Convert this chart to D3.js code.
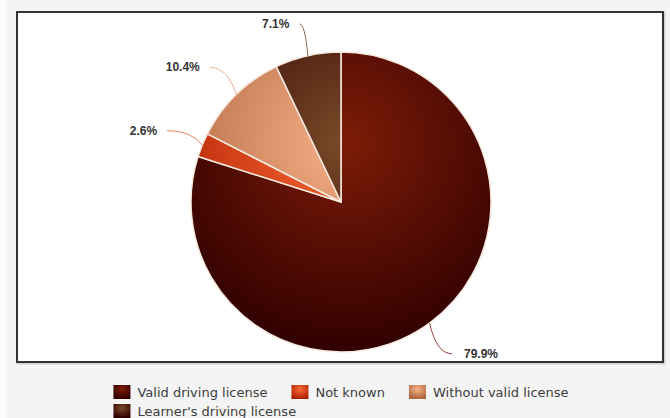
<!DOCTYPE html>
<html>
<head>
<meta charset="utf-8">
<script src="https://cdn.jsdelivr.net/npm/d3@7"></script>
<style>
  body { margin: 0; background: #f4f4f4; }
  svg { display: block; }
</style>
</head>
<body>
<div id="chart"></div>
<script>
// chart data
let categories = ["Valid driving license", "Not known", "Without valid license", "Learner's driving license"];
let shares = [79.9, 2.6, 10.4, 7.1];
let baseColors = ["#7d1c08", "#fa6a38", "#f8b088", "#7a4a28"];

let width = 670, height = 418;
let cx = 341, cy = 202, radius = 150;

let svg = d3.select("#chart").append("svg")
  .attr("width", width).attr("height", height);

let defs = svg.append("defs");

// darken like the old "brighten(-0.3)" trick
function darker(c) {
  let rgb = d3.rgb(c);
  return d3.rgb(Math.max(0, rgb.r - 76), Math.max(0, rgb.g - 76), Math.max(0, rgb.b - 76)).toString();
}

// one gradient per slice, shared centre across the pie (coords are in the pie group's space)
baseColors.forEach(function(c, i) {
  let g = defs.append("radialGradient")
    .attr("id", "pieGrad" + i)
    .attr("gradientUnits", "userSpaceOnUse")
    .attr("cx", 5).attr("cy", -0.4 * radius)
    .attr("fx", 5).attr("fy", -0.4 * radius)
    .attr("r", 1.4 * radius);
  g.append("stop").attr("offset", 0).attr("stop-color", c);
  g.append("stop").attr("offset", 1).attr("stop-color", darker(c));

  let lg = defs.append("radialGradient")
    .attr("id", "legGrad" + i)
    .attr("cx", 0.5).attr("cy", 0.3).attr("r", 0.7);
  lg.append("stop").attr("offset", 0).attr("stop-color", c);
  lg.append("stop").attr("offset", 1).attr("stop-color", darker(c));
});

// background pieces
svg.append("rect").attr("x", 0).attr("y", 0).attr("width", 7).attr("height", height).attr("fill", "#fafafa");
svg.append("rect")
  .attr("x", 18).attr("y", 13).attr("width", 646).attr("height", 350)
  .attr("fill", "none").attr("stroke", "#cfcfcf").attr("stroke-width", 3);
svg.append("rect")
  .attr("x", 17).attr("y", 12).attr("width", 646).attr("height", 350)
  .attr("fill", "#fff").attr("stroke", "#333").attr("stroke-width", 2);

// pie
let pie = d3.pie().sort(null).value(d => d.value).startAngle(0).endAngle(2 * Math.PI);
let rows = categories.map((c, i) => ({ name: c, value: shares[i], idx: i }));
let arcs = pie(rows);

let arc = d3.arc().innerRadius(0).outerRadius(radius);

let g = svg.append("g").attr("transform", `translate(${cx},${cy})`);

g.selectAll("path.slice")
  .data(arcs)
  .enter()
  .append("path")
  .attr("class", "slice")
  .attr("d", arc)
  .attr("fill", d => `url(#pieGrad${d.data.idx})`)
  .attr("stroke", "#f6e9de")
  .attr("stroke-width", 1.5)
  .attr("stroke-linejoin", "round");

// labels with curved connectors
function polar(a, r) {
  return [Math.sin(a) * r, -Math.cos(a) * r];
}

let labelR = radius + 38;
arcs.forEach(function(d) {
  let mid = (d.startAngle + d.endAngle) / 2;
  let edge = polar(mid, radius);
  let bend = polar(mid, radius + 12);
  let anchor = polar(mid, labelR);
  if (anchor[1] < -175) anchor[1] = -178;   // keep the top label inside the box
  let right = anchor[0] > 0;

  g.append("path")
    .attr("d", `M${anchor[0]},${anchor[1]} Q${bend[0]},${anchor[1]} ${edge[0]},${edge[1]}`)
    .attr("fill", "none")
    .attr("stroke", d3.color(baseColors[d.data.idx]).darker(0.2))
    .attr("stroke-opacity", 0.8)
    .attr("stroke-width", 1);

  g.append("text")
    .attr("x", anchor[0] + (right ? 12 : -10))
    .attr("y", anchor[1] + 4)
    .attr("text-anchor", right ? "start" : "end")
    .attr("font-family", "Liberation Sans, Arial, sans-serif")
    .attr("font-weight", "bold")
    .attr("font-size", "12px")
    .attr("fill", "#333")
    .text(d.data.value.toFixed(1) + "%");
});

// legend
let legend = svg.append("g");
let items = legend.selectAll("g.item")
  .data(rows)
  .enter()
  .append("g")
  .attr("class", "item");

items.append("rect")
  .attr("width", 17).attr("height", 14)
  .attr("fill", d => `url(#legGrad${d.idx})`);

items.append("text")
  .attr("x", 24).attr("y", 12)
  .attr("font-family", "DejaVu Sans, sans-serif")
  .attr("font-size", "13px")
  .attr("fill", "#3d3d3d")
  .text(d => d.name);

let maxW = 470, gap = 24;
let lines = [[]], lineW = [0];
items.each(function(d) {
  let w = 24 + this.querySelector("text").getComputedTextLength();
  let li = lines.length - 1;
  let need = lineW[li] === 0 ? w : lineW[li] + gap + w;
  if (need > maxW && lineW[li] > 0) {
    lines.push([]); lineW.push(0); li++;
    need = w;
  }
  lines[li].push({ node: this, x: lineW[li] === 0 ? 0 : lineW[li] + gap });
  lineW[li] = need;
});

let left = cx - d3.max(lineW) / 2;
lines.forEach(function(line, li) {
  line.forEach(function(it) {
    d3.select(it.node).attr("transform", `translate(${left + it.x},${385 + li * 19})`);
  });
});
</script>
</body>
</html>
